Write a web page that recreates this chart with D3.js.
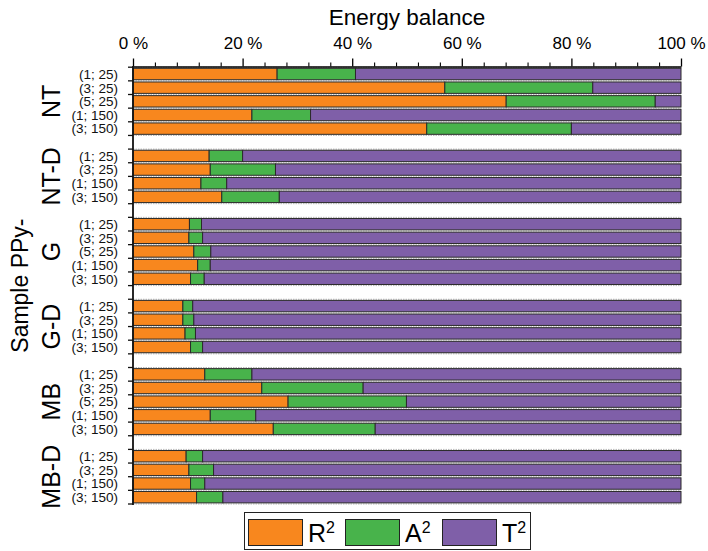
<!DOCTYPE html>
<html>
<head>
<meta charset="utf-8">
<script src="https://cdn.jsdelivr.net/npm/d3@7/dist/d3.min.js"></script>
<style>
  html, body { margin: 0; padding: 0; background: #fff; }
  svg { display: block; font-family: "Liberation Sans", Arial, sans-serif; }
</style>
</head>
<body>
<svg id="chart" width="708" height="551"></svg>
<script>
// Sample groups and their measurement conditions
const groups = ["NT", "NT-D", "G", "G-D", "MB", "MB-D"];
const conditionsFive = ["(1; 25)", "(3; 25)", "(5; 25)", "(1; 150)", "(3; 150)"];
const conditionsFour = ["(1; 25)", "(3; 25)", "(1; 150)", "(3; 150)"];
const groupConditions = [conditionsFive, conditionsFour, conditionsFive, conditionsFour, conditionsFive, conditionsFour];

// Energy balance shares (%), row by row in the order above
const r2 = [26.3, 56.9, 68.1, 21.7, 53.6,
            13.9, 14.1, 12.4, 16.2,
            10.3, 10.2, 11.1, 11.8, 10.5,
             9.1,  9.1,  9.5, 10.5,
            13.1, 23.5, 28.3, 14.1, 25.6,
             9.7, 10.2, 10.5, 11.6];
const a2 = [14.3, 27.0, 27.2, 10.7, 26.4,
             6.1, 11.9,  4.7, 10.5,
             2.2,  2.5,  3.1,  2.3,  2.5,
             1.8,  2.0,  1.9,  2.2,
             8.6, 18.5, 21.6,  8.3, 18.6,
             3.0,  4.5,  2.6,  4.8];
const t2 = [59.4, 16.1,  4.7, 67.6, 20.0,
            80.0, 74.0, 82.9, 73.3,
            87.5, 87.3, 85.8, 85.9, 87.0,
            89.1, 88.9, 88.6, 87.3,
            78.3, 58.0, 50.1, 77.6, 55.8,
            87.3, 85.3, 86.9, 83.6];

const xTicks = [0, 20, 40, 60, 80, 100];
const seriesKeys = ["R", "A", "T"];
const seriesColors = ["#F8871E", "#48B34B", "#7F5FA8"];

// Build rows and the vertical slot list (an empty slot separates groups)
const rows = [];
const slots = [];
let k = 0;
groups.forEach((g, gi) => {
  if (gi > 0) slots.push("gap" + gi);
  groupConditions[gi].forEach(c => {
    const key = g + "|" + c;
    rows.push({ key, group: g, cond: c, R: r2[k], A: a2[k], T: t2[k] });
    slots.push(key);
    k++;
  });
});

const svg = d3.select("#chart");
const plotLeft = 133, plotRight = 681, plotTop = 67.2, plotBottom = 504;

const x = d3.scaleLinear().domain([0, 100]).range([plotLeft, plotRight]);
const y = d3.scaleBand().domain(slots).range([plotTop, plotBottom]).padding(0);
const bw = y.bandwidth();
const barH = bw * 0.835;
const barOff = (bw - barH) / 2;

// Dotted guide lines at the edges of every bar slot
const edgeYs = new Set();
rows.forEach(r => { edgeYs.add(+(y(r.key)).toFixed(2)); edgeYs.add(+(y(r.key) + bw).toFixed(2)); });
svg.append("g").selectAll("line").data([...edgeYs]).join("line")
  .attr("x1", plotLeft).attr("x2", plotRight)
  .attr("y1", d => d).attr("y2", d => d)
  .attr("stroke", "#b8b8b8").attr("stroke-width", 1)
  .attr("stroke-dasharray", "1.5,1");

// Stacked bars
const stacked = d3.stack().keys(seriesKeys)(rows);
svg.append("g").selectAll("g").data(stacked).join("g")
  .attr("fill", (d, i) => seriesColors[i])
  .selectAll("rect").data(d => d).join("rect")
  .attr("x", d => x(d[0]))
  .attr("width", d => x(d[1]) - x(d[0]))
  .attr("y", d => y(d.data.key) + barOff)
  .attr("height", barH)
  .attr("stroke", "#2a2a2a").attr("stroke-width", 1);

// Top axis: major ticks with labels, minor ticks every 4 %
const axisY = 66.5;
const major = svg.append("g").attr("transform", `translate(0,${axisY})`)
  .call(d3.axisTop(x).tickValues(xTicks).tickFormat(d => d + " %").tickSize(8).tickSizeOuter(0).tickPadding(10));
major.select(".domain").attr("stroke", "#000").attr("stroke-width", 1.5);
major.selectAll(".tick line").attr("stroke", "#000").attr("stroke-width", 1.3);
major.selectAll(".tick text").attr("font-size", 17).attr("fill", "#000")
  .attr("font-family", "'Liberation Sans', Arial, sans-serif");

const minorVals = d3.range(0, 101, 4).filter(v => v % 20 !== 0);
const minor = svg.append("g").attr("transform", `translate(0,${axisY})`)
  .call(d3.axisTop(x).tickValues(minorVals).tickFormat("").tickSize(4).tickSizeOuter(0));
minor.select(".domain").remove();
minor.selectAll(".tick line").attr("stroke", "#000").attr("stroke-width", 1.1);

// Axis title
svg.append("text").attr("x", (plotLeft + plotRight) / 2).attr("y", 25)
  .attr("text-anchor", "middle").attr("font-size", 22.5).attr("fill", "#000")
  .text("Energy balance");

// Left axis line and ticks at slot boundaries
svg.append("line").attr("x1", plotLeft).attr("x2", plotLeft)
  .attr("y1", axisY - 0.5).attr("y2", plotBottom + 1)
  .attr("stroke", "#111").attr("stroke-width", 1.8);
const boundaries = slots.map(s => y(s)).concat([plotBottom]);
svg.append("g").selectAll("line").data(boundaries).join("line")
  .attr("x1", plotLeft - 5).attr("x2", plotLeft)
  .attr("y1", d => d).attr("y2", d => d)
  .attr("stroke", "#111").attr("stroke-width", 1.3);

// Row labels
svg.append("g").selectAll("text").data(rows).join("text")
  .attr("x", 118).attr("y", d => y(d.key) + bw / 2)
  .attr("dy", "0.36em").attr("text-anchor", "end")
  .attr("font-size", 13.5).attr("fill", "#111")
  .text(d => d.cond);

// Group labels
svg.append("g").selectAll("text").data(groups).join("text")
  .attr("transform", (g, gi) => {
    const keys = groupConditions[gi].map(c => g + "|" + c);
    const cy = (y(keys[0]) + y(keys[keys.length - 1]) + bw) / 2;
    return `translate(60,${cy}) rotate(-90)`;
  })
  .attr("text-anchor", "middle").attr("font-size", 25).attr("fill", "#000")
  .text(d => d);

svg.append("text")
  .attr("transform", `translate(28,${(plotTop + plotBottom) / 2}) rotate(-90)`)
  .attr("text-anchor", "middle").attr("font-size", 23).attr("fill", "#000")
  .text("Sample PPy-");

// Legend
const legendNames = ["R", "A", "T"];
const legend = svg.append("g");
legend.append("rect").attr("x", 244.5).attr("y", 512.5).attr("width", 286).attr("height", 37)
  .attr("fill", "#fff").attr("stroke", "#222").attr("stroke-width", 1);
const item = legend.selectAll("g.item").data(legendNames).join("g")
  .attr("class", "item")
  .attr("transform", (d, i) => `translate(${248 + i * 97},519)`);
item.append("rect").attr("x", 0.5).attr("y", 0.5).attr("width", 54).attr("height", 26)
  .attr("fill", (d, i) => seriesColors[i]).attr("stroke", "#222").attr("stroke-width", 1);
const lt = item.append("text").attr("x", 60).attr("y", 23).attr("font-size", 25).attr("fill", "#000");
lt.append("tspan").text(d => d);
lt.append("tspan").attr("dy", -9).attr("font-size", 16).text("2");
</script>
</body>
</html>
